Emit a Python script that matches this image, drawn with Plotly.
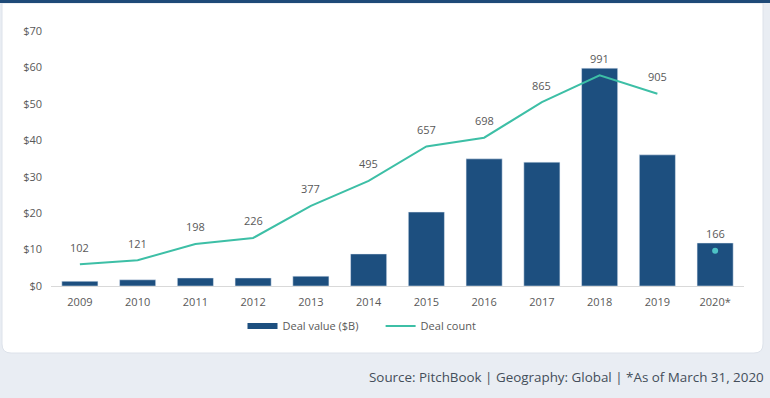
import plotly.graph_objects as go

years = ["2009", "2010", "2011", "2012", "2013", "2014", "2015", "2016", "2017", "2018", "2019", "2020*"]
deal_value = [1.3, 1.7, 2.2, 2.2, 2.7, 8.8, 20.3, 34.9, 34.0, 59.8, 36.0, 11.8]
deal_count = [102, 121, 198, 226, 377, 495, 657, 698, 865, 991, 905, 166]
y_ticks = [0, 10, 20, 30, 40, 50, 60, 70]
y_tick_labels = ["$0", "$10", "$20", "$30", "$40", "$50", "$60", "$70"]

W, H = 770, 398
L, R, T, B = 51, 26, 31, 112
PW, PH = W - L - R, H - T - B

def px(x):
    return (x - L) / PW

def py(y):
    return 1 - (y - T) / PH

NAVY = "#1d4f7f"
TEAL = "#3dbfa6"
DOT = "#4ec3c6"
TXT = "#595959"
FONT = "Open Sans"
NB = "\u00a0"

fig = go.Figure()
fig.add_trace(go.Bar(x=years, y=deal_value, marker_color=NAVY, showlegend=False,
                     hoverinfo="skip"))
fig.add_trace(go.Scatter(x=[years[0]], y=[None], mode="lines", line=dict(color=NAVY, width=6),
                         name="Deal value ($B)" + NB * 6))
fig.add_trace(go.Scatter(x=years[:-1], y=deal_count[:-1], mode="lines", yaxis="y2",
                         line=dict(color=TEAL, width=2), name="Deal count"))
fig.add_trace(go.Scatter(x=years[-1:], y=deal_count[-1:], mode="markers", yaxis="y2",
                         marker=dict(color=DOT, size=6), showlegend=False))

for i, c in enumerate(deal_count):
    fig.add_annotation(x=i, y=c, xref="x", yref="y2", text=str(c), showarrow=False,
                       yshift=17, font=dict(family=FONT, size=11, color=TXT))

fig.add_annotation(xref="paper", yref="paper", x=px(766), y=py(377), xanchor="right",
                   yanchor="middle", showarrow=False,
                   text="Source: PitchBook | Geography: Global | *As of March 31, 2020",
                   font=dict(family=FONT, size=13.4, color="#444e5a"))

x0, x1, y0, y1, r = 2, 763, 3, 353, 9
card = (f"M {px(x0)},{py(y0)} L {px(x1)},{py(y0)} L {px(x1)},{py(y1 - r)} "
        f"Q {px(x1)},{py(y1)} {px(x1 - r)},{py(y1)} L {px(x0 + r)},{py(y1)} "
        f"Q {px(x0)},{py(y1)} {px(x0)},{py(y1 - r)} Z")
shapes = [
    dict(type="path", xref="paper", yref="paper", path=card, fillcolor="white",
         line=dict(color="#dde2ea", width=1), layer="below"),
    dict(type="rect", xref="paper", yref="paper", x0=px(0), x1=px(W), y0=py(0), y1=py(3),
         fillcolor="#1f4a78", line=dict(width=0), layer="below"),
]

fig.update_layout(
    width=W, height=H,
    margin=dict(l=L, r=R, t=T, b=B),
    paper_bgcolor="#e9edf3", plot_bgcolor="rgba(0,0,0,0)",
    font=dict(family=FONT, size=11, color=TXT),
    bargap=0.375,
    shapes=shapes,
    xaxis=dict(type="category", categoryorder="array", categoryarray=years,
               range=[-0.5, len(years) - 0.5], showline=True, linecolor="#d9d9d9",
               linewidth=1, ticks="", showgrid=False, tickfont=dict(size=11, color=TXT),
               ticklabelstandoff=6),
    yaxis=dict(range=[0, 70], tickvals=y_ticks, ticktext=y_tick_labels, showgrid=False,
               zeroline=False, showline=False, ticks="", tickfont=dict(size=11, color=TXT),
               ticklabelstandoff=8),
    yaxis2=dict(range=[0, 1200], overlaying="y", side="right", visible=False),
    legend=dict(orientation="h", x=px(362), xanchor="center", y=py(326), yanchor="middle",
                font=dict(size=11, color=TXT), bgcolor="rgba(0,0,0,0)", itemwidth=30),
    showlegend=True,
)

fig.write_html("out.html", config={"displayModeBar": False},
               post_script="document.body.style.margin='0px';")
